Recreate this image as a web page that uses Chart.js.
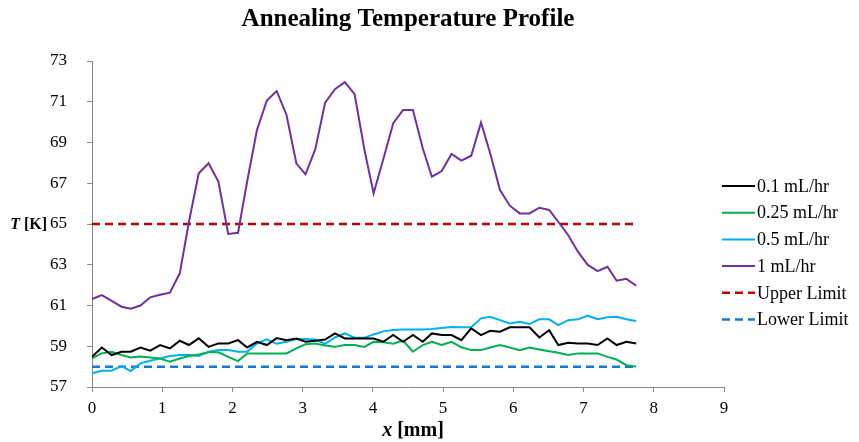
<!DOCTYPE html>
<html>
<head>
<meta charset="utf-8">
<title>Annealing Temperature Profile</title>
<script src="https://cdn.jsdelivr.net/npm/chart.js@4.4.1/dist/chart.umd.min.js"></script>
<style>
  html, body { margin: 0; padding: 0; background: #fff; }
</style>
</head>
<body>
<canvas id="chart" width="859" height="442"></canvas>
<script>
// positions along the sample [mm]
const positions = [0, 0.14, 0.28, 0.42, 0.55, 0.69, 0.83, 0.97, 1.11, 1.25, 1.38, 1.52, 1.66, 1.80, 1.94,
  2.08, 2.21, 2.35, 2.49, 2.63, 2.77, 2.91, 3.04, 3.18, 3.32, 3.46, 3.60, 3.74, 3.88, 4.01, 4.15, 4.29,
  4.43, 4.57, 4.71, 4.84, 4.98, 5.12, 5.26, 5.40, 5.54, 5.67, 5.81, 5.95, 6.09, 6.23, 6.37, 6.51, 6.64,
  6.78, 6.92, 7.06, 7.20, 7.34, 7.47, 7.61, 7.75];

// temperatures [K] per flow rate
const flow01 = [58.48, 58.94, 58.57, 58.73, 58.73, 58.94, 58.78, 59.06, 58.89, 59.27, 59.06, 59.39, 58.97,
  59.14, 59.14, 59.30, 58.94, 59.22, 59.06, 59.40, 59.30, 59.38, 59.22, 59.27, 59.33, 59.63, 59.38, 59.38,
  59.38, 59.38, 59.22, 59.55, 59.22, 59.55, 59.22, 59.63, 59.55, 59.55, 59.30, 59.88, 59.55, 59.76, 59.71,
  59.93, 59.93, 59.93, 59.43, 59.79, 59.06, 59.17, 59.14, 59.14, 59.06, 59.38, 59.06, 59.22, 59.14];

const flow025 = [58.40, 58.65, 58.73, 58.57, 58.45, 58.50, 58.45, 58.40, 58.24, 58.40, 58.52, 58.60, 58.70,
  58.70, 58.48, 58.27, 58.65, 58.65, 58.65, 58.65, 58.65, 58.90, 59.10, 59.14, 59.04, 58.97, 59.06, 59.06,
  58.97, 59.22, 59.20, 59.12, 59.28, 58.73, 59.06, 59.22, 59.06, 59.22, 58.95, 58.81, 58.81, 58.94, 59.06,
  58.94, 58.81, 58.94, 58.84, 58.76, 58.68, 58.57, 58.65, 58.65, 58.65, 58.48, 58.35, 58.07, 58.00];

const flow05 = [57.67, 57.80, 57.80, 58.03, 57.78, 58.16, 58.29, 58.40, 58.52, 58.57, 58.57, 58.52, 58.73,
  58.81, 58.81, 58.73, 58.73, 59.14, 59.34, 59.12, 59.22, 59.35, 59.35, 59.33, 59.12, 59.43, 59.63, 59.42,
  59.42, 59.58, 59.73, 59.80, 59.82, 59.82, 59.82, 59.85, 59.90, 59.95, 59.93, 59.93, 60.37, 60.45, 60.28,
  60.12, 60.20, 60.09, 60.32, 60.32, 60.04, 60.28, 60.32, 60.50, 60.33, 60.42, 60.45, 60.33, 60.24];

const flow1 = [61.32, 61.51, 61.23, 60.94, 60.84, 61.00, 61.40, 61.53, 61.63, 62.58, 65.10, 67.49, 67.98,
  67.08, 64.51, 64.57, 67.10, 69.62, 71.06, 71.53, 70.35, 67.98, 67.44, 68.67, 70.96, 71.62, 71.96, 71.37,
  68.63, 66.51, 68.20, 69.95, 70.60, 70.60, 68.72, 67.32, 67.60, 68.44, 68.11, 68.35, 69.98, 68.47, 66.67,
  65.90, 65.52, 65.52, 65.80, 65.69, 65.11, 64.46, 63.64, 62.99, 62.69, 62.90, 62.22, 62.31, 61.97];

// limits
const limitRange = [0, 7.75];
const upperLimit = 65;
const lowerLimit = 58;

const seriesLabels = ["0.1 mL/hr", "0.25 mL/hr", "0.5 mL/hr", "1 mL/hr", "Upper Limit", "Lower Limit"];
const xTicks = [0, 1, 2, 3, 4, 5, 6, 7, 8, 9];
const yTicks = [57, 59, 61, 63, 65, 67, 69, 71, 73];

const serif = "'Liberation Serif', 'Times New Roman', serif";

function toPoints(values) {
    return positions.map((x, i) => ({ x: x, y: values[i] }));
}

function flatLine(value) {
    return limitRange.map((x) => ({ x: x, y: value }));
}

function lineSet(label, data, color, dash) {
    return {
        label: label,
        data: data,
        borderColor: color,
        backgroundColor: color,
        borderWidth: dash ? 2.5 : 2,
        borderDash: dash || [],
        pointRadius: 0,
        tension: 0,
        fill: false,
    };
}

// legend drawn at the right, from the datasets
const sideLegend = {
    id: "sideLegend",
    afterDraw(chart) {
        const ctx = chart.ctx;
        const x0 = chart.chartArea.right - 2;
        ctx.save();
        ctx.font = "18px " + serif;
        ctx.textBaseline = "middle";
        chart.data.datasets.forEach((ds, i) => {
            const y = 186 + i * 26.7;
            ctx.strokeStyle = ds.borderColor;
            ctx.lineWidth = ds.borderWidth;
            ctx.setLineDash(ds.borderDash);
            ctx.beginPath();
            ctx.moveTo(x0, y);
            ctx.lineTo(x0 + 33, y);
            ctx.stroke();
            ctx.setLineDash([]);
            ctx.fillStyle = "#000";
            ctx.fillText(ds.label, x0 + 35, y + 1);
        });
        ctx.restore();
    },
};

// axis titles with italic symbols
function drawMixed(ctx, parts, x, y, size, align) {
    let total = 0;
    parts.forEach((p) => {
        ctx.font = p[1] + " " + size + "px " + serif;
        total += ctx.measureText(p[0]).width;
    });
    let cx = align === "right" ? x - total : x - total / 2;
    parts.forEach((p) => {
        ctx.font = p[1] + " " + size + "px " + serif;
        ctx.fillText(p[0], cx, y);
        cx += ctx.measureText(p[0]).width;
    });
}

const axisTitles = {
    id: "axisTitles",
    afterDraw(chart) {
        const ctx = chart.ctx;
        const area = chart.chartArea;
        ctx.save();
        ctx.fillStyle = "#000";
        ctx.textAlign = "left";
        ctx.textBaseline = "middle";
        drawMixed(ctx, [["x", "italic bold"], [" [mm]", "bold"]], (area.left + area.right) / 2 + 5, 431, 20, "center");
        drawMixed(ctx, [["T", "italic bold"], [" [K]", "bold"]], 47, chart.scales.y.getPixelForValue(65) + 1, 16, "right");
        ctx.restore();
    },
};

const ctx = document.getElementById("chart").getContext("2d");
new Chart(ctx, {
    type: "line",
    data: {
        datasets: [
            lineSet(seriesLabels[0], toPoints(flow01), "#000000"),
            lineSet(seriesLabels[1], toPoints(flow025), "#00B050"),
            lineSet(seriesLabels[2], toPoints(flow05), "#00B0F0"),
            lineSet(seriesLabels[3], toPoints(flow1), "#7030A0"),
            lineSet(seriesLabels[4], flatLine(upperLimit), "#C00000", [8, 5]),
            lineSet(seriesLabels[5], flatLine(lowerLimit), "#1878D0", [8, 5]),
        ],
    },
    options: {
        responsive: false,
        devicePixelRatio: 1,
        animation: false,
        layout: { padding: { left: 0, right: 135, top: 0, bottom: 0 } },
        plugins: {
            legend: { display: false },
            tooltip: { enabled: false },
            title: {
                display: true,
                fullSize: false,
                text: "Annealing Temperature Profile",
                color: "#000",
                font: { family: serif, size: 25, weight: "bold" },
                padding: { top: 5, bottom: 26 },
            },
        },
        scales: {
            x: {
                type: "linear",
                min: 0,
                max: 9,
                afterBuildTicks: (s) => { s.ticks = xTicks.map((v) => ({ value: v })); },
                afterFit: (s) => { s.height = 55; },
                ticks: { color: "#000", font: { family: serif, size: 17 }, padding: 6 },
                grid: { drawOnChartArea: false, tickLength: 5, color: "#888" },
                border: { color: "#888" },
            },
            y: {
                min: 57,
                max: 73,
                afterBuildTicks: (s) => { s.ticks = yTicks.map((v) => ({ value: v })); },
                afterFit: (s) => { s.width = 92; },
                ticks: { color: "#000", font: { family: serif, size: 17 }, padding: 20 },
                grid: { drawOnChartArea: false, tickLength: 5, color: "#888" },
                border: { color: "#888" },
            },
        },
    },
    plugins: [sideLegend, axisTitles],
});
</script>
</body>
</html>
